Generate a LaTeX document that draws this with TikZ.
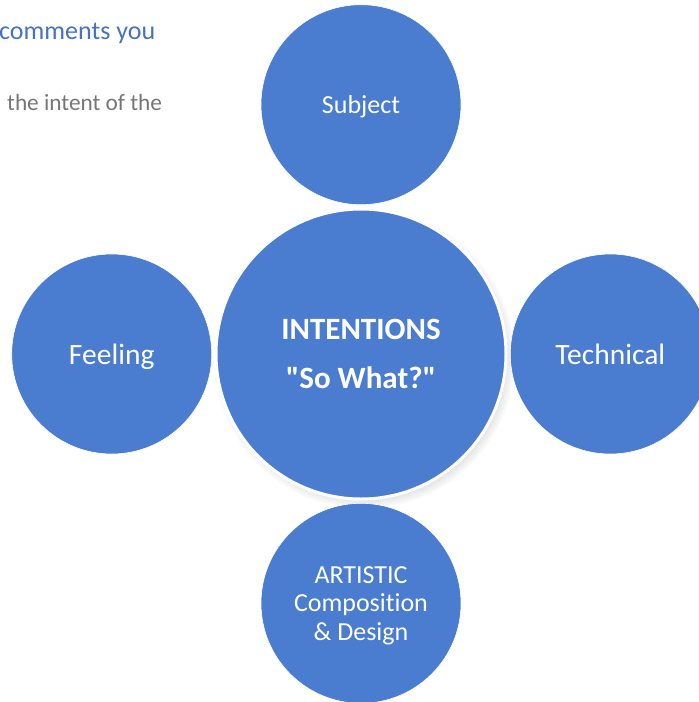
\documentclass[tikz,border=0pt]{standalone}
\usepackage{fontspec}
\setmainfont{Carlito}[Ligatures=NoCommon]
\usepackage{tikz}
\usetikzlibrary{positioning,shadows}
\definecolor{bubbleblue}{RGB}{74,124,208}
\definecolor{headblue}{RGB}{68,114,196}
\definecolor{bodygray}{RGB}{118,118,118}

\begin{document}
\begin{tikzpicture}[x=1pt,y=1pt,node distance=2.5pt,
    bubble/.style={circle,fill=bubbleblue,draw=white,line width=0.6pt,
      minimum size=200pt,inner sep=0pt,text=white,align=center,
      text depth=0pt,font=\fontsize{26}{28.5}\selectfont},
    big label/.style={font=\fontsize{29.5}{32}\selectfont},
    core/.style={circle,fill=bubbleblue,draw=white,line width=3pt,
      minimum size=290pt,inner sep=0pt,text=white,align=center,
      font=\bfseries\fontsize{31}{49}\selectfont,
      circular drop shadow={shadow scale=1.04,shadow xshift=3pt,
        shadow yshift=-4pt,opacity=0.45}}]
  \useasboundingbox (0,0) rectangle (699,-702);
  % page text behind the diagram
  \node[anchor=base west,inner sep=0pt,text=headblue,
    font=\fontsize{26}{28}\selectfont] (head) at (-1,-39) {comments you};
  \node[anchor=base west,inner sep=0pt,text=bodygray,
    font=\fontsize{23.3}{26}\selectfont] (body) at (7,-110) {the intent of the};
  % centre and the four bubbles round it
  \node[core] (intent) at (361,-354) {INTENTIONS\\\textquotedbl So What?\textquotedbl};
  \node[bubble,above=of intent] (subject) {Subject};
  \node[bubble,big label,left=of intent] (feeling) {Feeling};
  \node[bubble,big label,right=of intent] (technical) {Technical};
  \node[bubble,below=of intent] (artistic) {ARTISTIC\\Composition\\\& Design};
\end{tikzpicture}
\end{document}
